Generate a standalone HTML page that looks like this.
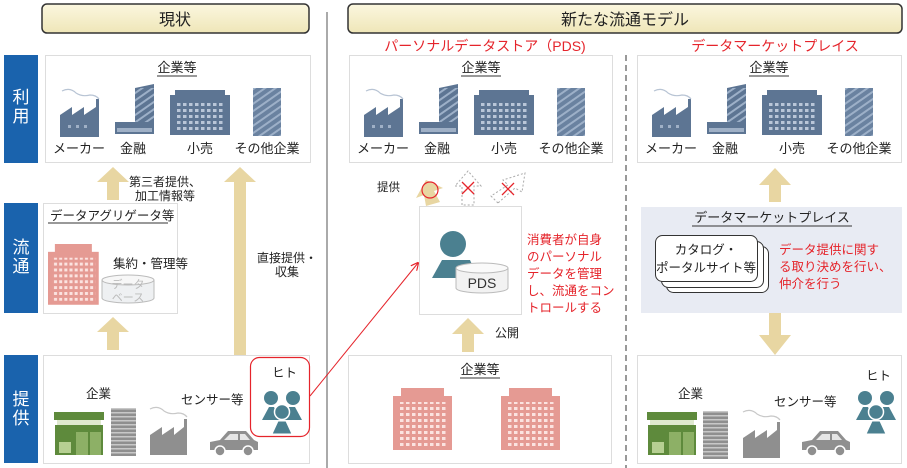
<!DOCTYPE html>
<html><head><meta charset="utf-8"><style>
body{margin:0;background:#fff}
svg{display:block;font-family:"Liberation Sans","Noto Sans CJK JP",sans-serif}
</style></head><body>
<svg width="907" height="468" viewBox="0 0 907 468" xmlns="http://www.w3.org/2000/svg">
<defs>
<linearGradient id="hg" x1="0" y1="0" x2="0" y2="1"><stop offset="0" stop-color="#fbf7df"/><stop offset="1" stop-color="#efe6b8"/></linearGradient>
<pattern id="win" width="6" height="6" patternUnits="userSpaceOnUse"><rect x="1" y="1" width="3.5" height="3" fill="#b9c6d8"/></pattern>
<pattern id="winp" width="6" height="6" patternUnits="userSpaceOnUse"><rect x="1" y="1" width="3.5" height="3" fill="#fbe3e0"/></pattern>
<pattern id="stripe" width="6" height="6" patternUnits="userSpaceOnUse" patternTransform="rotate(-35)"><rect width="6" height="2" fill="#9db0c8"/></pattern>
<pattern id="gstripe" width="6" height="4" patternUnits="userSpaceOnUse"><rect width="6" height="1.5" fill="#c8c8c8"/></pattern>
<g id="factory">
<path d="M2 50 V28 L14 20 V28 L26 20 V28 L38 20 V12 h3 V50 Z" fill="#5d7593"/>
<path d="M4 4 q8 -4 14 2 q6 4 14 2 q6 0 9 4" fill="none" stroke="#b8c4d4" stroke-width="1.2"/>
<rect x="10" y="38" width="3" height="3" fill="#9fb0c6"/><rect x="18" y="38" width="3" height="3" fill="#9fb0c6"/><rect x="26" y="38" width="3" height="3" fill="#9fb0c6"/>
</g>
<g id="bank">
<path d="M20 4 L39 0 V48 H20Z" fill="#5d7593"/><rect x="20" y="4" width="19" height="44" fill="url(#stripe)"/>
<rect x="0" y="38" width="39" height="12" fill="#5d7593"/><rect x="2" y="44" width="35" height="4" fill="#9fb0c6"/>
</g>
<g id="retail">
<rect x="5" y="0" width="50" height="6" fill="#5d7593"/><rect x="0" y="5" width="60" height="40" fill="#5d7593"/><rect x="5" y="10" width="50" height="32" fill="url(#win)"/>
</g>
<g id="other">
<rect x="0" y="0" width="28" height="48" fill="#6a82a0"/><rect x="0" y="0" width="28" height="48" fill="url(#stripe)"/>
</g>
<g id="corp">
<use href="#factory" x="13" y="87"/><use href="#bank" x="70" y="84"/><use href="#retail" x="125" y="90"/><use href="#other" x="208" y="88"/>
</g>
<g id="pink">
<rect x="8" y="0" width="43" height="9" fill="#e59a93"/><rect x="0" y="8" width="59" height="54" fill="#e59a93"/><rect x="5" y="14" width="50" height="44" fill="url(#winp)"/>
</g>
<g id="store">
<rect x="0" y="0" width="50" height="8" fill="#5e8a3c"/><rect x="3" y="8" width="44" height="5" fill="#dfe9cf"/><rect x="1" y="13" width="48" height="30" fill="#5e8a3c"/>
<rect x="5" y="30" width="12" height="11" fill="#b6cf92"/><rect x="22" y="20" width="12" height="23" fill="#8db066"/><rect x="36" y="20" width="11" height="23" fill="#8db066"/>
</g>
<g id="tall"><rect width="25" height="48" fill="#8f8f8f"/><rect width="25" height="48" fill="url(#gstripe)"/></g>
<g id="gfact">
<path d="M2 50 V30 L14 22 V30 L26 22 V30 L36 22 V14 h3 V50 Z" fill="#8f8f8f"/>
<path d="M2 4 q8 -4 14 2 q6 4 14 2 q6 0 9 4" fill="none" stroke="#c8c8c8" stroke-width="1.2"/>
</g>
<g id="car">
<path d="M2 22 V14 L12 12 L20 3 H38 L46 12 L50 14 V22 Z" fill="#8f8f8f"/>
<path d="M22 6 H30 V12 H16Z M32 6 H37 L42 12 H32Z" fill="#e6e6e6"/>
<circle cx="12" cy="23" r="5" fill="#8f8f8f" stroke="#fff" stroke-width="1.5"/><circle cx="40" cy="23" r="5" fill="#8f8f8f" stroke="#fff" stroke-width="1.5"/>
</g>
<g id="people" fill="#4b8090">
<circle cx="9" cy="8" r="7"/><path d="M0 30 L7 17 H12 L18 30Z"/>
<circle cx="31" cy="8" r="7"/><path d="M22 30 L27 17 H33 L40 30Z"/>
<circle cx="20" cy="22" r="7.5" stroke="#fff" stroke-width="1.5"/><path d="M10 44 L16 31 H24 L30 44Z" stroke="#fff" stroke-width="1"/>
</g>
<marker id="ra" markerWidth="8" markerHeight="8" refX="7" refY="4" orient="auto"><path d="M0 0 L8 4 L0 8" fill="none" stroke="#e5242b" stroke-width="1.2"/></marker>
</defs>

<rect x="42" y="4" width="267" height="29" rx="5" fill="url(#hg)" stroke="#333" stroke-width="1.5"/>
<text x="175" y="25" font-size="16" text-anchor="middle" fill="#222">現状</text>
<rect x="348" y="4" width="554" height="29" rx="5" fill="url(#hg)" stroke="#333" stroke-width="1.5"/>
<text x="625" y="25" font-size="16" text-anchor="middle" fill="#222">新たな流通モデル</text>
<text x="485" y="51" font-size="14" text-anchor="middle" fill="#e5242b">パーソナルデータストア（PDS)</text>
<text x="775" y="51" font-size="14" text-anchor="middle" fill="#e5242b">データマーケットプレイス</text>
<line x1="327" y1="12" x2="327" y2="468" stroke="#aaa" stroke-width="2"/>
<line x1="626" y1="55" x2="626" y2="468" stroke="#999" stroke-width="2" stroke-dasharray="6,4"/>

<rect x="4" y="55" width="34" height="108" fill="#1a63ad"/>
<text x="21" y="103" font-size="17" fill="#fff" text-anchor="middle">利</text><text x="21" y="122" font-size="17" fill="#fff" text-anchor="middle">用</text>
<rect x="4" y="203" width="34" height="110" fill="#1a63ad"/>
<text x="21" y="253" font-size="17" fill="#fff" text-anchor="middle">流</text><text x="21" y="272" font-size="17" fill="#fff" text-anchor="middle">通</text>
<rect x="4" y="355" width="34" height="108" fill="#1a63ad"/>
<text x="21" y="405" font-size="17" fill="#fff" text-anchor="middle">提</text><text x="21" y="424" font-size="17" fill="#fff" text-anchor="middle">供</text>

<g font-size="13" fill="#222" text-anchor="middle">
<rect x="45.5" y="55.5" width="265" height="107" fill="#fff" stroke="#ddd"/>
<g transform="translate(45,0)"><use href="#corp"/><text x="132" y="72">企業等</text><line x1="112" y1="76" x2="152" y2="76" stroke="#333"/>
<text x="34" y="153">メーカー</text><text x="88" y="153">金融</text><text x="155" y="153">小売</text><text x="222" y="153">その他企業</text></g>
<rect x="349.5" y="55.5" width="263" height="107" fill="#fff" stroke="#ddd"/>
<g transform="translate(349,0)"><use href="#corp"/><text x="132" y="72">企業等</text><line x1="112" y1="76" x2="152" y2="76" stroke="#333"/>
<text x="34" y="153">メーカー</text><text x="88" y="153">金融</text><text x="155" y="153">小売</text><text x="222" y="153">その他企業</text></g>
<rect x="637.5" y="55.5" width="264" height="107" fill="#fff" stroke="#ddd"/>
<g transform="translate(637,0)"><use href="#corp"/><text x="132" y="72">企業等</text><line x1="112" y1="76" x2="152" y2="76" stroke="#333"/>
<text x="34" y="153">メーカー</text><text x="88" y="153">金融</text><text x="155" y="153">小売</text><text x="222" y="153">その他企業</text></g>
</g>

<g fill="#e8d6a2">
<path d="M107 200 V182 H97 L113 167 L129 182 H119 V200Z"/>
<path d="M107 350 V332 H97 L113 317 L129 332 H119 V350Z"/>
<path d="M234 355 V182 H224 L240 167 L256 182 H246 V355Z"/>
</g>
<g font-size="12" fill="#222" text-anchor="middle">
<text x="165" y="186">第三者提供、</text><text x="165" y="200">加工情報等</text>
<text x="287" y="262">直接提供・</text><text x="287" y="276">収集</text>
</g>

<rect x="43.5" y="203.5" width="134" height="110" fill="#fff" stroke="#ddd"/>
<text x="50" y="220" font-size="12.5" fill="#222">データアグリゲータ等</text><line x1="48" y1="223" x2="168" y2="223" stroke="#333"/>
<use href="#pink" transform="translate(48,244) scale(0.86,0.98)"/>
<text x="113" y="268" font-size="12.5" fill="#222">集約・管理等</text>
<path d="M102 280 V298 A26 5 0 0 0 154 298 V280" fill="#eef0f2" stroke="#bbb"/><ellipse cx="128" cy="280" rx="26" ry="5" fill="#f7f7f7" stroke="#bbb"/>
<text x="128" y="288" font-size="11" fill="#bbb" text-anchor="middle">データ</text><text x="128" y="301" font-size="11" fill="#bbb" text-anchor="middle">ベース</text>

<rect x="43.5" y="355.5" width="266" height="108" fill="#fff" stroke="#ddd"/>
<use href="#store" x="54" y="412"/><use href="#tall" x="111" y="408"/><use href="#gfact" x="148" y="405"/><use href="#car" x="208" y="428"/>
<rect x="250.5" y="357.5" width="59" height="79" rx="9" fill="#fff" stroke="#e5242b" stroke-width="1.2"/>
<use href="#people" x="262" y="390"/>
<g font-size="12.5" fill="#222"><text x="86" y="398">企業</text><text x="181" y="404">センサー等</text><text x="272" y="377">ヒト</text></g>
<line x1="310" y1="396" x2="418" y2="263" stroke="#e5242b" stroke-width="1" marker-end="url(#ra)"/>

<text x="377" y="191" font-size="11.5" fill="#222">提供</text>
<path d="M426 206 L424 195 L416 198 L426 180 L443 188 L434 191 L440 202Z" fill="#e8d6a2"/>
<circle cx="430" cy="190" r="8" fill="none" stroke="#e5242b" stroke-width="1.2"/>
<path d="M462 205 V186 H455 L468 171 L481 186 H474 V205Z" fill="#fff" stroke="#aaa" stroke-dasharray="2,2"/>
<path d="M462 182 L474 194 M474 182 L462 194" stroke="#e5242b" stroke-width="1.3"/>
<path d="M498 203 L491 196 L508 185 L503 180 L525 173 L522 192 L515 188 Z" fill="#fff" stroke="#aaa" stroke-dasharray="2,2"/>
<path d="M502 183 L514 195 M514 183 L502 195" stroke="#e5242b" stroke-width="1.3"/>
<rect x="419.5" y="206.5" width="102" height="108" fill="#fff" stroke="#ddd"/>
<circle cx="453" cy="244" r="13" fill="#4b8090"/><path d="M432 278 L442 260 H470 L478 278Z" fill="#4b8090"/>
<path d="M456 268 V288 A26 5 0 0 0 508 288 V268" fill="#f2f2f2" stroke="#bbb"/><ellipse cx="482" cy="268" rx="26" ry="5" fill="#fafafa" stroke="#bbb"/>
<text x="482" y="288" font-size="14" fill="#333" text-anchor="middle">PDS</text>
<g font-size="12.5" fill="#e5242b"><text x="527" y="244">消費者が自身</text><text x="527" y="261">のパーソナル</text><text x="527" y="278">データを管理</text><text x="527" y="295">し、流通をコン</text><text x="527" y="312">トロールする</text></g>
<path d="M462 352 V334 H452 L468 318 L484 334 H474 V352Z" fill="#e8d6a2"/>
<text x="495" y="337" font-size="12" fill="#222">公開</text>
<rect x="348.5" y="355.5" width="263" height="108" fill="#fff" stroke="#ddd"/>
<text x="480" y="374" font-size="13" fill="#222" text-anchor="middle">企業等</text><line x1="460" y1="378" x2="500" y2="378" stroke="#333"/>
<use href="#pink" x="393" y="388"/><use href="#pink" x="501" y="388"/>

<path d="M769 202 V185 H759 L775 168 L791 185 H781 V202Z" fill="#e8d6a2"/>
<rect x="641" y="207" width="261" height="106" fill="#e8ebf3"/>
<text x="772" y="222" font-size="13" fill="#222" text-anchor="middle">データマーケットプレイス</text><line x1="692" y1="226" x2="852" y2="226" stroke="#333"/>
<rect x="666.5" y="246.5" width="102" height="46" rx="7" fill="#fff" stroke="#333"/>
<rect x="661.5" y="241.5" width="102" height="46" rx="7" fill="#fff" stroke="#333"/>
<rect x="655.5" y="235.5" width="102" height="46" rx="7" fill="#fff" stroke="#333"/>
<text x="706" y="254" font-size="12.5" fill="#222" text-anchor="middle">カタログ・</text><text x="706" y="272" font-size="12.5" fill="#222" text-anchor="middle">ポータルサイト等</text>
<g font-size="12.5" fill="#e5242b"><text x="779" y="254">データ提供に関す</text><text x="779" y="271">る取り決めを行い、</text><text x="779" y="288">仲介を行う</text></g>
<path d="M769 313 V335 H759 L775 355 L791 335 H781 V313Z" fill="#e8d6a2"/>
<rect x="637.5" y="355.5" width="264" height="108" fill="#fff" stroke="#ddd"/>
<use href="#store" x="647" y="412"/><use href="#tall" x="703" y="411"/><use href="#gfact" x="741" y="408"/><use href="#car" x="800" y="428"/>
<use href="#people" x="856" y="390"/>
<g font-size="12.5" fill="#222"><text x="678" y="398">企業</text><text x="774" y="406">センサー等</text><text x="866" y="380">ヒト</text></g>
</svg>
</body></html>
